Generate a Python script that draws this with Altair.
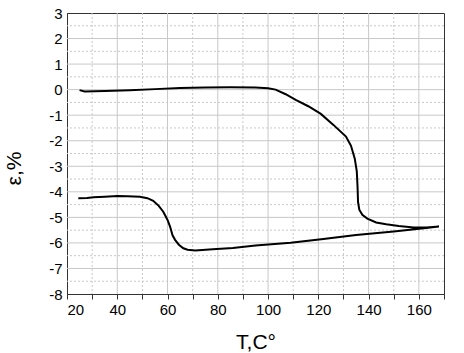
import altair as alt
import pandas as pd

# Loop: heating branch (upper) then cooling branch (lower)
T_vals = [25, 27, 35, 45, 55, 65, 75, 85, 95, 100, 103, 107, 111, 116, 121, 126, 131, 133,
          134.5, 135.3, 135.6, 135.8, 136.3, 137.5, 139.5, 143, 147, 152, 158, 163, 168,
          162, 150, 135, 122, 109, 95, 86, 78, 71, 68, 66.3, 64.5, 63, 62, 61, 60, 58.3,
          56.5, 54.3, 52, 49, 44, 40, 35, 30.5, 28, 24.5]
eps_vals = [-0.02, -0.07, -0.05, -0.02, 0.02, 0.06, 0.08, 0.09, 0.08, 0.05, 0.0, -0.18, -0.4,
            -0.65, -0.95, -1.38, -1.84, -2.2, -2.7, -3.2, -3.8, -4.4, -4.7, -4.9, -5.05, -5.2,
            -5.27, -5.34, -5.4, -5.4, -5.36,
            -5.43, -5.55, -5.69, -5.85, -5.99, -6.1, -6.2, -6.25, -6.3, -6.27, -6.21, -6.07,
            -5.88, -5.7, -5.36, -5.1, -4.78, -4.55, -4.35, -4.25, -4.19, -4.17, -4.16, -4.19,
            -4.21, -4.24, -4.25]

x_ticks = list(range(20, 171, 10))
x_major_grid = [40, 60, 80, 100, 120, 140, 160]
x_minor_grid = [30, 50, 70, 90, 110, 130, 150]
y_ticks = list(range(-8, 4))
y_major_grid = list(range(-7, 3))
y_minor_grid = [-7.5, -6.5, -5.5, -4.5, -3.5, -2.5, -1.5, -0.5, 0.5, 1.5, 2.5]

df = pd.DataFrame({"T": T_vals, "eps": eps_vals, "idx": range(len(T_vals))})

xs = alt.Scale(domain=[20, 170], nice=False, zero=False)
ys = alt.Scale(domain=[-8, 3], nice=False, zero=False)

x_axis = alt.Axis(values=x_ticks, grid=False,
                  labelExpr="datum.value % 20 == 0 ? datum.label : ''",
                  tickSize=5, tickColor="#333", domainColor="#333",
                  labelFontSize=15, labelPadding=3, labelColor="black",
                  labelFont="Liberation Sans", titleFont="Liberation Sans",
                  titleFontSize=21, titleFontWeight="normal", titleColor="black",
                  titleY=54, titleBaseline="alphabetic")
y_axis = alt.Axis(values=y_ticks, grid=False, ticks=False, domainColor="#333",
                  labelExpr="'' + datum.value",
                  labelFontSize=15, labelPadding=5, labelColor="black",
                  labelFont="Liberation Sans", titleFont="Liberation Sans",
                  titleFontSize=21, titleFontWeight="normal", titleColor="black",
                  titleX=-47, titleY=155, titleAngle=-90, titleBaseline="alphabetic",
                  titleAlign="center")

X = lambda: alt.X("T:Q", scale=xs, title="T,C°", axis=x_axis)
Y = lambda: alt.Y("eps:Q", scale=ys, title="ε,%", axis=y_axis)

grid_color = "#c8c8c8"

vmaj = alt.Chart(pd.DataFrame({"T": x_major_grid})).mark_rule(color=grid_color, strokeWidth=1).encode(x=X())
vmin = alt.Chart(pd.DataFrame({"T": x_minor_grid})).mark_rule(color=grid_color, strokeWidth=1, strokeDash=[2, 2]).encode(x=X())
hmaj = alt.Chart(pd.DataFrame({"eps": y_major_grid})).mark_rule(color=grid_color, strokeWidth=1).encode(y=Y())
hmin = alt.Chart(pd.DataFrame({"eps": y_minor_grid})).mark_rule(color=grid_color, strokeWidth=1, strokeDash=[2, 2]).encode(y=Y())

line = alt.Chart(df).mark_line(color="black", strokeWidth=2).encode(
    x=X(), y=Y(), order="idx:Q",
)

chart = alt.layer(vmin, hmin, vmaj, hmaj, line).properties(
    width=377, height=281,
    autosize=alt.AutoSizeParams(type="none"),
    padding={"left": 67, "top": 13, "right": 20, "bottom": 59},
    background="white",
).configure_view(stroke="#333", strokeWidth=1)

chart.save("out.html", embed_options={"renderer": "svg", "actions": False})
